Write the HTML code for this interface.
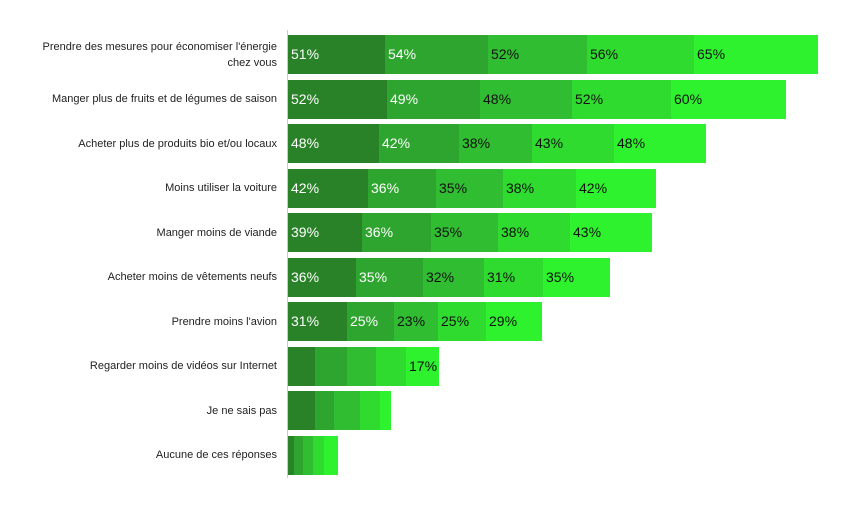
<!DOCTYPE html>
<html><head><meta charset="utf-8"><style>
body{margin:0;width:858px;height:510px;background:#fff;position:relative;font-family:"Liberation Sans",sans-serif;overflow:hidden}
.ax{position:absolute;left:287px;top:30px;width:1px;height:448px;background:#ccc}
.lab{position:absolute;right:581px;font-size:11px;color:#222;text-align:right;line-height:16px;white-space:nowrap}
.s{position:absolute;height:39px;font-size:14px;line-height:39px;padding-left:3px;box-sizing:border-box;white-space:nowrap}
.c0{background:#2a8228;color:#fff}.c1{background:#2ea52e;color:#fff}.c2{background:#31bd31;color:#111}.c3{background:#2fdb2f;color:#111}.c4{background:#2ef22e;color:#111}
</style></head><body>
<div class="ax"></div>
<div id="c"></div>
<script>
var k=1.91;
var rows=[
["Prendre des mesures pour économiser l'énergie<br>chez vous",[51,54,52,56,65],1],
["Manger plus de fruits et de légumes de saison",[52,49,48,52,60],1],
["Acheter plus de produits bio et/ou locaux",[48,42,38,43,48],1],
["Moins utiliser la voiture",[42,36,35,38,42],1],
["Manger moins de viande",[39,36,35,38,43],1],
["Acheter moins de vêtements neufs",[36,35,32,31,35],1],
["Prendre moins l'avion",[31,25,23,25,29],1],
["Regarder moins de vidéos sur Internet",[14.5,16.8,15.2,15.7,17.3],2],
["Je ne sais pas",[14.5,10,13.6,10.5,5.8],0],
["Aucune de ces réponses",[3.5,4.7,5.2,5.8,7.3],0]];
var h="";
rows.forEach(function(r,i){
 var cy=54.5+i*44.5, top=Math.round(cy-19.5);
 var two=r[0].indexOf("<br>")>0;
 h+='<div class="lab" style="top:'+(cy-(two?16:8))+'px">'+r[0]+'</div>';
 var x=287.5;
 r[1].forEach(function(v,j){
  var a=Math.round(x), b=Math.round(x+v*k), t="";
  if(r[2]==1) t=Math.round(v)+"%";
  if(r[2]==2&&j==4) t="17%";
  h+='<div class="s c'+j+'" style="left:'+a+'px;top:'+top+'px;width:'+(b-a)+'px">'+t+'</div>';
  x+=v*k;
 });
});
document.getElementById("c").innerHTML=h;
</script>
</body></html>
